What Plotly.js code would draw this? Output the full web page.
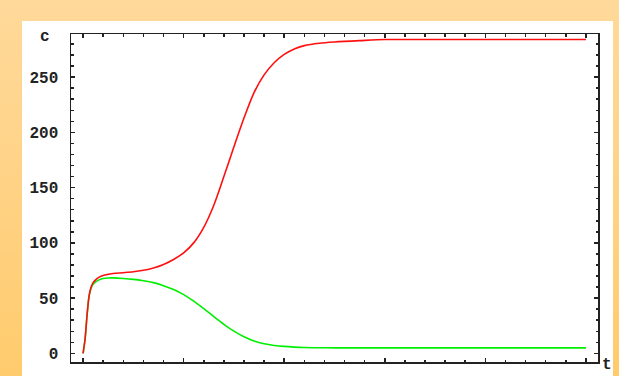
<!DOCTYPE html>
<html>
<head>
<meta charset="utf-8">
<script src="https://cdn.plot.ly/plotly-3.0.1.min.js"></script>
<style>
  html, body { margin: 0; padding: 0; }
  body {
    width: 619px; height: 376px; overflow: hidden; position: relative;
    background: linear-gradient(to bottom, #FFD99A 0%, #FFD48A 40%, #FFCB6C 100%);
  }
  #panel { position: absolute; left: 22px; top: 21px; width: 591px; height: 355px; background: #ffffff; }
  #chart { position: absolute; left: 0; top: 0; width: 619px; height: 376px; }
</style>
</head>
<body>
<div id="panel"></div>
<div id="chart"></div>
<script>
// time points
const t = [0, 2, 4, 6, 8, 10, 13, 16, 20, 25, 30, 40, 50, 60, 70, 80, 90, 100, 110, 120, 130, 140, 150, 160, 170, 180, 190, 200, 210, 220, 235, 250, 275, 300, 350, 400, 450, 500];
// red series
const cRed = [0, 13, 35, 52, 60, 64, 67, 69, 70.5, 71.5, 72.3, 73, 73.8, 75.2, 77.3, 80.5, 85, 91, 100, 114, 134, 160, 187, 213, 236, 252, 263, 270.5, 275.5, 278.5, 280.7, 281.8, 283, 284, 284, 284, 284, 284];
// green series
const cGreen = [0, 13, 35, 52, 59, 62.5, 65, 66.5, 67.7, 68.2, 68.3, 67.8, 67, 65.7, 64, 61.3, 57.8, 53.2, 47.3, 40.5, 33.3, 26.3, 20.1, 15, 11.2, 8.7, 7.2, 6.3, 5.7, 5.3, 5.1, 5, 5, 5, 5, 5, 5, 5];
// tick labels
const xTickVals = [0, 100, 200, 300, 400, 500];
const yTickVals = [0, 50, 100, 150, 200, 250];

const axisColor = '#222222';
const tickFont = { family: 'Liberation Mono, monospace', size: 16, color: '#222222', weight: 'bold' };

const traces = [
  { x: t, y: cGreen, type: 'scatter', mode: 'lines', line: { color: '#00ee00', width: 1.6, shape: 'spline', smoothing: 0.8 }, hoverinfo: 'skip' },
  { x: t, y: cRed, type: 'scatter', mode: 'lines', line: { color: '#ff1010', width: 1.6, shape: 'spline', smoothing: 0.8 }, hoverinfo: 'skip' }
];

const layout = {
  width: 619, height: 376,
  margin: { l: 71, r: 21, t: 34, b: 14, pad: 0 },
  paper_bgcolor: 'rgba(0,0,0,0)',
  plot_bgcolor: 'rgba(0,0,0,0)',
  showlegend: false,
  xaxis: {
    range: [-12, 512], tickvals: xTickVals, ticktext: xTickVals.map(String),
    showgrid: false, zeroline: false, showline: true, mirror: 'ticks',
    linecolor: axisColor, linewidth: 1.5,
    ticks: 'inside', ticklen: 4, tickwidth: 1.5, tickcolor: axisColor,
    minor: { dtick: 20, tick0: 0, ticks: 'inside', ticklen: 2.5, tickwidth: 1.5, tickcolor: axisColor, showgrid: false },
    tickfont: tickFont, ticklabelstandoff: 6
  },
  yaxis: {
    range: [-7.8, 289], tickvals: yTickVals, ticktext: yTickVals.map(String),
    showgrid: false, zeroline: false, showline: true, mirror: 'ticks',
    linecolor: axisColor, linewidth: 1.5,
    ticks: 'inside', ticklen: 4, tickwidth: 1.5, tickcolor: axisColor,
    minor: { dtick: 10, tick0: 0, ticks: 'inside', ticklen: 2.5, tickwidth: 1.5, tickcolor: axisColor, showgrid: false },
    tickfont: tickFont, ticklabelstandoff: 8
  },
  annotations: [
    { text: 'c', xref: 'paper', yref: 'paper', x: -0.05, y: 1.0, yshift: -3, xanchor: 'center', yanchor: 'middle', showarrow: false, font: tickFont },
    { text: 't', xref: 'paper', yref: 'paper', x: 1.0, y: 0.0, xshift: 9, yshift: -3, xanchor: 'center', yanchor: 'middle', showarrow: false, font: tickFont }
  ]
};

Plotly.newPlot('chart', traces, layout, { staticPlot: true, displayModeBar: false });
</script>
</body>
</html>
